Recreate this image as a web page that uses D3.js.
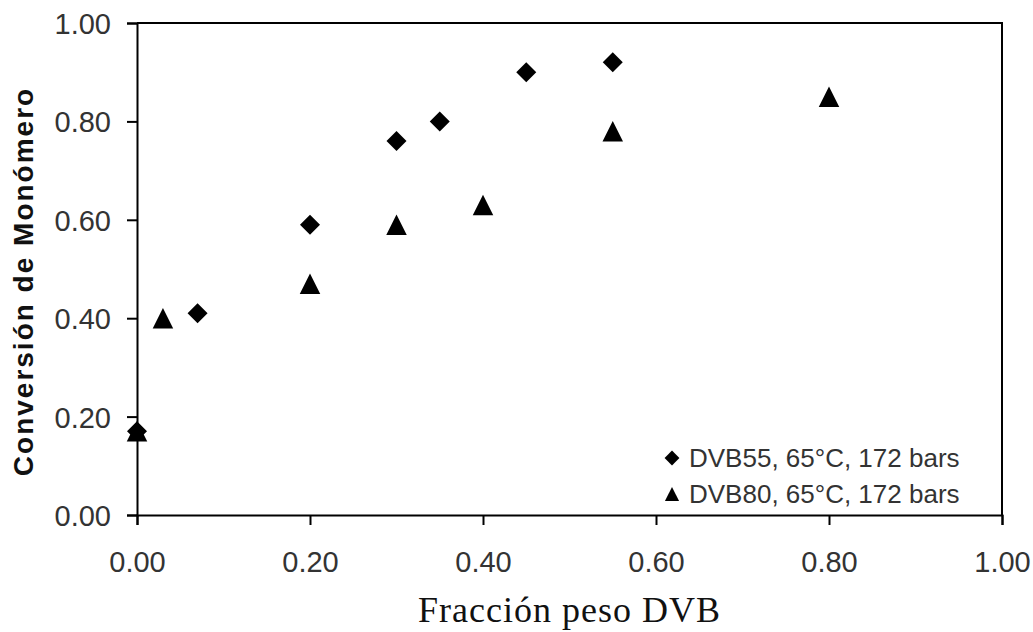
<!DOCTYPE html>
<html>
<head>
<meta charset="utf-8">
<script src="https://cdn.jsdelivr.net/npm/d3@7"></script>
<style>
  body { margin: 0; background: #fff; }
  svg { display: block; }
</style>
</head>
<body>
<svg></svg>
<script>
let width = 1033;
let height = 632;

// data
let seriesNames = ['DVB55, 65°C, 172 bars', 'DVB80, 65°C, 172 bars'];
let dvb55X = [0.00, 0.07, 0.20, 0.30, 0.35, 0.45, 0.55];
let dvb55Y = [0.17, 0.41, 0.59, 0.76, 0.80, 0.90, 0.92];
let dvb80X = [0.00, 0.03, 0.20, 0.30, 0.40, 0.55, 0.80];
let dvb80Y = [0.17, 0.40, 0.47, 0.59, 0.63, 0.78, 0.85];
let tickValues = [0, 0.2, 0.4, 0.6, 0.8, 1.0];

let margin = {left: 137, right: 31, top: 23, bottom: 117};

let svg = d3.select('svg')
    .attr('width', width)
    .attr('height', height);

let x = d3.scaleLinear().domain([0, 1]).range([margin.left, width - margin.right]);
let y = d3.scaleLinear().domain([0, 1]).range([height - margin.bottom, margin.top]);

// custom marker shapes (Excel style diamond / triangle)
let diamond = {
    draw(ctx, size) {
        let r = Math.sqrt(size) / 2;
        ctx.moveTo(0, -r); ctx.lineTo(r, 0); ctx.lineTo(0, r); ctx.lineTo(-r, 0); ctx.closePath();
    }
};
let triangle = {
    draw(ctx, size) {
        let r = Math.sqrt(size) / 2;
        ctx.moveTo(0, -r); ctx.lineTo(r, r); ctx.lineTo(-r, r); ctx.closePath();
    }
};

// plot frame (top and right)
svg.append('path')
    .attr('d', `M${x(0)},${y(1)}H${x(1)}V${y(0)}`)
    .attr('fill', 'none')
    .attr('stroke', '#000')
    .attr('stroke-width', 2);

let fmt = d3.format('.2f');

let xAxis = svg.append('g')
    .attr('transform', `translate(0,${y(0)})`)
    .call(d3.axisBottom(x).tickValues(tickValues).tickFormat(fmt).tickSize(10).tickPadding(26));

let yAxis = svg.append('g')
    .attr('transform', `translate(${x(0)},0)`)
    .call(d3.axisLeft(y).tickValues(tickValues).tickFormat(fmt).tickSize(10).tickPadding(16));

[xAxis, yAxis].forEach(g => {
    g.select('.domain').attr('stroke', '#000').attr('stroke-width', 2);
    g.selectAll('.tick line').attr('stroke', '#000').attr('stroke-width', 2);
    g.selectAll('.tick text')
        .attr('fill', '#333')
        .style('font-family', '"Liberation Sans", Arial, sans-serif')
        .style('font-size', '29px');
});
yAxis.selectAll('.tick text').attr('dy', '0.36em');

// axis titles
svg.append('text')
    .attr('x', (x(0) + x(1)) / 2)
    .attr('y', 622)
    .attr('text-anchor', 'middle')
    .style('font-family', '"Liberation Serif", "Times New Roman", serif')
    .style('font-size', '36px')
    .style('letter-spacing', '1px')
    .attr('fill', '#111')
    .text('Fracción peso DVB');

svg.append('text')
    .attr('transform', `translate(33,${(85 + 478) / 2}) rotate(-90)`)
    .attr('text-anchor', 'middle')
    .style('font-family', '"Liberation Sans", Arial, sans-serif')
    .style('font-size', '28px')
    .style('font-weight', 'bold')
    .style('letter-spacing', '2px')
    .attr('fill', '#111')
    .text('Conversión de Monómero');

// points
let series = [
    {name: seriesNames[0], xs: dvb55X, ys: dvb55Y, type: diamond, size: 400},
    {name: seriesNames[1], xs: dvb80X, ys: dvb80Y, type: triangle, size: 420}
];

series.forEach(s => {
    svg.append('g')
        .selectAll('path')
        .data(s.xs.map((v, i) => [v, s.ys[i]]))
        .enter()
        .append('path')
        .attr('d', d3.symbol().type(s.type).size(s.size))
        .attr('transform', d => `translate(${x(d[0])},${y(d[1])})`)
        .attr('fill', '#000');
});

// legend
let legend = svg.append('g').attr('transform', 'translate(672,458)');
let legendRow = legend.selectAll('g')
    .data(series)
    .enter()
    .append('g')
    .attr('transform', (d, i) => `translate(0,${i * 36})`);

legendRow.append('path')
    .attr('d', d => d3.symbol().type(d.type).size(d.type === diamond ? 220 : 200)())
    .attr('fill', '#000');

legendRow.append('text')
    .attr('x', 17)
    .attr('dy', '0.36em')
    .style('font-family', '"Liberation Sans", Arial, sans-serif')
    .style('font-size', '26px')
    .attr('fill', '#333')
    .text(d => d.name);
</script>
</body>
</html>
